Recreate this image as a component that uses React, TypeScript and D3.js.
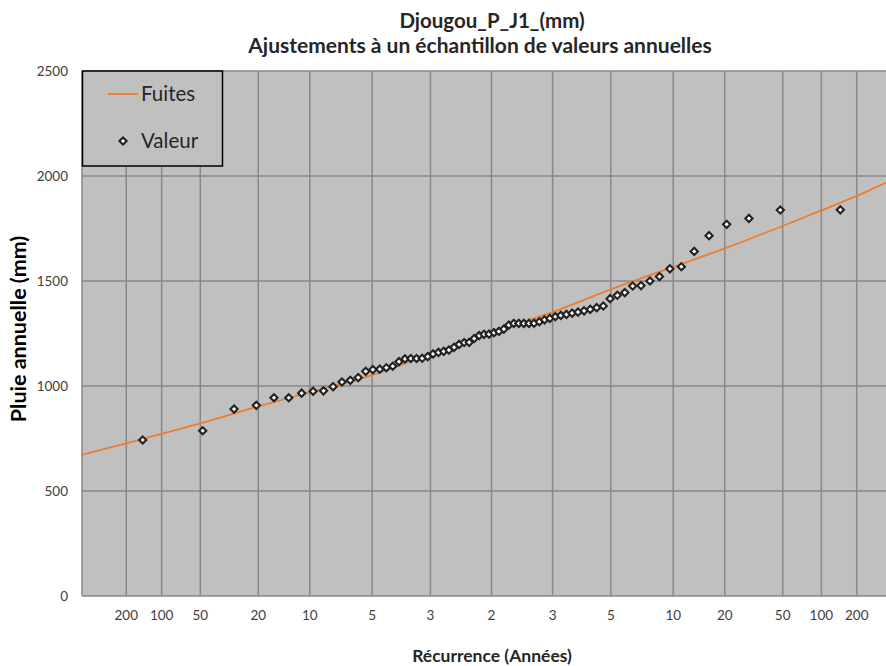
import React, { useEffect, useRef } from 'react';
import * as d3 from 'd3';

// valeurs annuelles classées (mm)
const valeurs = [
  743, 787, 890, 908, 944, 944, 966, 975, 977, 997,
  1019, 1027, 1040, 1070, 1078, 1080, 1087, 1094, 1116, 1129,
  1131, 1131, 1132, 1140, 1153, 1160, 1165, 1171, 1184, 1198,
  1207, 1208, 1226, 1240, 1246, 1247, 1254, 1260, 1271, 1290,
  1298, 1298, 1298, 1298, 1299, 1306, 1315, 1322, 1330, 1336,
  1341, 1347, 1352, 1358, 1365, 1373, 1381, 1416, 1432, 1445,
  1476, 1478, 1500, 1521, 1558, 1568, 1641, 1716, 1770, 1798,
  1838, 1839,
];

// loi ajustée (probabilité au non-dépassement -> valeur)
const fitProb = [0.0019, 0.005, 0.01, 0.02, 0.05, 0.1, 0.2, 0.3333, 0.5, 0.6667, 0.8, 0.9, 0.95, 0.98, 0.99, 0.995, 0.9973, 0.998];
const fitValue = [671, 727, 772, 822, 903, 970, 1052, 1152, 1258, 1352, 1460, 1567, 1655, 1762, 1836, 1905, 1968, 1995];

const periodesBas = [200, 100, 50, 20, 10, 5, 3];
const periodesHaut = [3, 5, 10, 20, 50, 100, 200];
const yTicks = [0, 500, 1000, 1500, 2000, 2500];

// inverse de la loi normale (Acklam)
function probit(p: number): number {
  const a = [-3.969683028665376e1, 2.209460984245205e2, -2.759285104469687e2, 1.38357751867269e2, -3.066479806614716e1, 2.506628277459239];
  const b = [-5.447609879822406e1, 1.615858368580409e2, -1.556989798598866e2, 6.680131188771972e1, -1.328068155288572e1];
  const c = [-7.784894002430293e-3, -3.223964580411365e-1, -2.400758277161838, -2.549732539343734, 4.374664141464968, 2.938163982698783];
  const d = [7.784695709041462e-3, 3.224671290700398e-1, 2.445134137142996, 3.754408661907416];
  const tail = (q: number) =>
    (((((c[0] * q + c[1]) * q + c[2]) * q + c[3]) * q + c[4]) * q + c[5]) /
    ((((d[0] * q + d[1]) * q + d[2]) * q + d[3]) * q + 1);
  if (p < 0.02425) return tail(Math.sqrt(-2 * Math.log(p)));
  if (p > 1 - 0.02425) return -tail(Math.sqrt(-2 * Math.log(1 - p)));
  const q = p - 0.5, r = q * q;
  return (((((a[0] * r + a[1]) * r + a[2]) * r + a[3]) * r + a[4]) * r + a[5]) * q /
    (((((b[0] * r + b[1]) * r + b[2]) * r + b[3]) * r + b[4]) * r + 1);
}

const W = 886, H = 666;

export default function App() {
  const ref = useRef<SVGSVGElement>(null);

  useEffect(() => {
    const left = 82, top = 71, bottom = 596;
    const uMax = 2.888;
    const x = d3.scaleLinear().domain([-uMax, uMax]).range([left, left + 2 * 409.5]);
    const y = d3.scaleLinear().domain([0, 2500]).range([bottom, top]);
    const px = (p: number) => x(probit(p));

    const svg = d3.select(ref.current);
    svg.selectAll('*').remove();

    const font = 'Lato, "Open Sans", sans-serif';

    // fond du tracé
    svg.append('rect')
      .attr('x', left).attr('y', top)
      .attr('width', x(uMax) - left).attr('height', bottom - top)
      .attr('fill', '#c0c0c0');

    const xTicks = [
      ...periodesBas.map(t => ({ p: 1 / t, label: t })),
      { p: 0.5, label: 2 },
      ...periodesHaut.map(t => ({ p: 1 - 1 / t, label: t })),
    ];

    const grid = svg.append('g').attr('stroke', '#888888').attr('stroke-width', 1.5);
    grid.selectAll('line.h').data(yTicks).enter().append('line')
      .attr('x1', left).attr('x2', x(uMax))
      .attr('y1', d => y(d)).attr('y2', d => y(d));
    grid.selectAll('line.v').data(xTicks).enter().append('line')
      .attr('x1', d => px(d.p)).attr('x2', d => px(d.p))
      .attr('y1', top).attr('y2', bottom);
    grid.append('line').attr('x1', left).attr('x2', left).attr('y1', top).attr('y2', bottom);

    // libellés des axes
    svg.append('g').selectAll('text').data(yTicks).enter().append('text')
      .attr('x', 68).attr('y', d => y(d) + 5)
      .attr('text-anchor', 'end')
      .attr('font-family', font).attr('font-size', 13.5).attr('fill', '#404040')
      .text(d => d);
    svg.append('g').selectAll('text').data(xTicks).enter().append('text')
      .attr('x', d => px(d.p)).attr('y', 620)
      .attr('text-anchor', 'middle')
      .attr('font-family', font).attr('font-size', 13.5).attr('fill', '#404040')
      .text(d => d.label);

    // courbe ajustée
    const line = d3.line<number>()
      .x((_, i) => px(fitProb[i]))
      .y(d => y(d))
      .curve(d3.curveMonotoneX);
    svg.append('path')
      .attr('d', line(fitValue))
      .attr('fill', 'none').attr('stroke', '#ED7D31').attr('stroke-width', 1.8);

    // points observés (position de Hazen)
    const n = valeurs.length;
    const diamond = 'M0,-3.6L3.6,0L0,3.6L-3.6,0Z';
    svg.append('g').selectAll('path').data(valeurs).enter().append('path')
      .attr('transform', (d, i) => `translate(${px((i + 0.5) / n)},${y(d)})`)
      .attr('d', diamond)
      .attr('fill', '#fff').attr('stroke', '#222').attr('stroke-width', 2.1);

    // légende
    const lg = svg.append('g');
    lg.append('rect').attr('x', 82.5).attr('y', 71).attr('width', 140).attr('height', 95)
      .attr('fill', '#c0c0c0').attr('stroke', '#000').attr('stroke-width', 1.5);
    lg.append('line').attr('x1', 108).attr('x2', 138).attr('y1', 94).attr('y2', 94)
      .attr('stroke', '#ED7D31').attr('stroke-width', 1.8);
    lg.append('text').attr('x', 141).attr('y', 101)
      .attr('font-family', font).attr('font-size', 20.5).attr('fill', '#262626').text('Fuites');
    lg.append('path').attr('transform', 'translate(123,141)').attr('d', diamond)
      .attr('fill', '#fff').attr('stroke', '#222').attr('stroke-width', 2.1);
    lg.append('text').attr('x', 141).attr('y', 148)
      .attr('font-family', font).attr('font-size', 20.5).attr('fill', '#262626').text('Valeur');

    // titres
    svg.append('text').attr('x', 492).attr('y', 28).attr('text-anchor', 'middle')
      .attr('font-family', font).attr('font-weight', 'bold').attr('font-size', 20.5).attr('fill', '#262626')
      .text('Djougou_P_J1_(mm)');
    svg.append('text').attr('x', 480).attr('y', 53).attr('text-anchor', 'middle')
      .attr('font-family', font).attr('font-weight', 'bold').attr('font-size', 21).attr('fill', '#262626')
      .text('Ajustements à un échantillon de valeurs annuelles');
    svg.append('text').attr('x', 492).attr('y', 662).attr('text-anchor', 'middle')
      .attr('font-family', font).attr('font-weight', 'bold').attr('font-size', 17.5).attr('fill', '#262626')
      .text('Récurrence (Années)');
    svg.append('text').attr('transform', 'translate(26,329) rotate(-90)').attr('text-anchor', 'middle')
      .attr('font-family', font).attr('font-weight', 'bold').attr('font-size', 21.5).attr('fill', '#000')
      .text('Pluie annuelle (mm)');
  }, []);

  return (
    <svg ref={ref} width={W} height={H}
      style={{ position: 'absolute', left: 0, top: 0, background: '#fff' }} />
  );
}
